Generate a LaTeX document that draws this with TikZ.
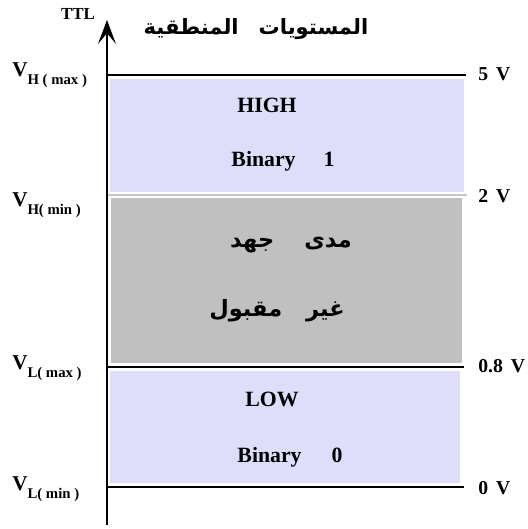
\documentclass[tikz,border=0pt]{standalone}
\usepackage{fontspec}
\setmainfont{Liberation Serif}
\newfontfamily\arabicfont[Script=Arabic]{DejaVu Sans}
\TeXXeTstate=1
\usepackage{tikz}
\usetikzlibrary{arrows.meta,positioning,calc}
\definecolor{levelblue}{RGB}{222,222,250}
\definecolor{levelgray}{RGB}{192,192,192}
\newcommand{\vsub}[1]{V\raisebox{-5.5pt}{\fontsize{10.5}{12}\selectfont #1}}

\begin{document}
\begin{tikzpicture}[
      bandtext/.style={anchor=base, font=\fontsize{15.5}{18}\selectfont\bfseries, inner sep=0pt},
      voltlabel/.style={anchor=base west, font=\fontsize{14}{16}\selectfont\bfseries, inner sep=0pt},
      levellabel/.style={anchor=base west, font=\fontsize{15}{17}\selectfont\bfseries, inner sep=0pt},
      arabictext/.style={font=\fontsize{16}{18}\selectfont\arabicfont\bfseries, inner sep=0pt},
      levelline/.style={line width=1.2pt},
      axisline/.style={line width=1.1pt, -{Stealth[length=0.6cm, width=0.45cm, inset=0.27cm]}}
    ]
    \useasboundingbox (0,0) rectangle (13.2,13.225);

    \fill[levelblue] (2.75,11.2375) rectangle (11.6,8.425);
    \fill[levelgray] (2.775,8.275) rectangle (11.55,4.15);
    \fill[levelblue] (2.75,3.95) rectangle (11.5,1.15);

    \coordinate (axisbottom) at (2.675,0.1);
    \coordinate (axistop) at (2.675,12.725);
    \coordinate (hmaxend) at (11.65,11.35);
    \coordinate (hminend) at (11.675,8.35);
    \coordinate (lmaxend) at (11.6,4.05);
    \coordinate (lminend) at (11.6,1.05);

    \draw[levelline] (hmaxend -| axisbottom) -- (hmaxend);
    \draw[line width=0.8pt, gray!45] (hminend -| axisbottom) -- (hminend);
    \draw[levelline] (lmaxend -| axisbottom) -- (lmaxend);
    \draw[levelline] (lminend -| axisbottom) -- (lminend);
    \draw[axisline] (axisbottom) -- (axistop);

    \node[font=\fontsize{12}{14}\selectfont\bfseries, inner sep=0pt] (ttl) at (1.95,12.875) {TTL};
    \node[font=\fontsize{15}{17}\selectfont\arabicfont\bfseries, inner sep=0pt] (title) at (6.4,12.5) {\beginR المستويات\hspace{0.5cm}المنطقية\endR};

    \node[levellabel] (vhmax) at (0.3,11.3) {\vsub{H ( max )}};
    \node[levellabel] (vhmin) at (0.3,8.05) {\vsub{H( min )}};
    \node[levellabel] (vlmax) at (0.3,3.975) {\vsub{L( max )}};
    \node[levellabel] (vlmin) at (0.3,0.95) {\vsub{L( min )}};

    \node[voltlabel] (fivev) at (11.95,11.2) {5\hspace{0.2cm}V};
    \node[voltlabel] (twov) at (11.95,8.15) {2\hspace{0.2cm}V};
    \node[voltlabel] (eightv) at (11.95,3.9) {0.8\hspace{0.2cm}V};
    \node[voltlabel] (zerov) at (11.95,0.87) {0\hspace{0.2cm}V};

    \node[bandtext] (high) at (6.675,10.4) {HIGH};
    \node[bandtext] (binone) at (7.075,9.05) {Binary\hspace{0.7cm}1};
    \node[arabictext] (range) at (7.275,7.1) {\beginR مدى\hspace{0.75cm}جهد\endR};
    \node[arabictext] (invalid) at (6.925,5.45) {\beginR غير\hspace{0.6cm}مقبول\endR};
    \node[bandtext] (low) at (6.8,3.05) {LOW};
    \node[bandtext] (binzero) at (7.25,1.65) {Binary\hspace{0.75cm}0};
  \end{tikzpicture}
\end{document}
